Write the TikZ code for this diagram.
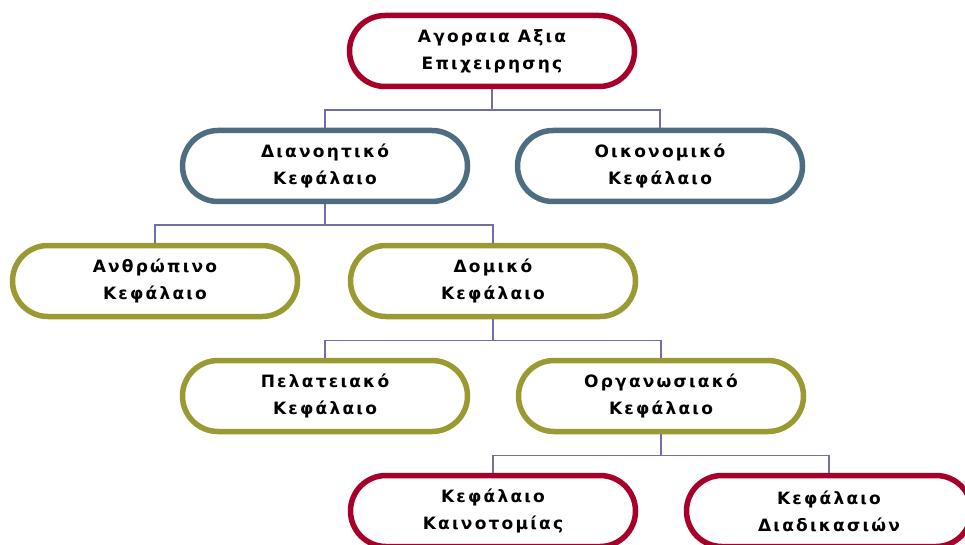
\documentclass[tikz,border=0pt]{standalone}
\usepackage{fontspec}
\setmainfont{DejaVu Sans}[BoldFont={DejaVu Sans Bold}]
\newfontfamily\boxfont{DejaVu Sans Bold}[LetterSpace=13]
\definecolor{capred}{HTML}{A6002A}
\definecolor{capblue}{HTML}{4D6D80}
\definecolor{capolive}{HTML}{9A9A33}
\definecolor{linkcol}{HTML}{6F6FA6}
\tikzset{
  capbox/.style={draw, line width=5.5pt, fill=white, rounded corners=35.5pt,
    minimum width=285pt, minimum height=71pt, inner sep=0pt, align=center,
    font=\boxfont\fontsize{17}{27}\selectfont, text=black},
  redbox/.style={capbox, draw=capred},
  bluebox/.style={capbox, draw=capblue},
  olivebox/.style={capbox, draw=capolive},
  link/.style={draw=linkcol, line width=1.5pt}
}
\begin{document}
\begin{tikzpicture}[x=1pt, y=-1pt]
\useasboundingbox (0,0) rectangle (965,545);
% hierarchy of capital components
\node[redbox]   (value)  at (492,51)  {Αγοραια Αξια\\Επιχειρησης};
\node[bluebox]  (intel)  at (325,166) {Διανοητικό\\Κεφάλαιο};
\node[bluebox]  (fin)    at (660,166) {Οικονομικό\\Κεφάλαιο};
\node[olivebox] (human)  at (155,281) {Ανθρώπινο\\Κεφάλαιο};
\node[olivebox] (struct) at (493,281) {Δομικό\\Κεφάλαιο};
\node[olivebox] (cust)   at (325,396) {Πελατειακό\\Κεφάλαιο};
\node[olivebox] (org)    at (661,396) {Οργανωσιακό\\Κεφάλαιο};
\node[redbox]   (innov)  at (493,511) {Κεφάλαιο\\Καινοτομίας};
\node[redbox]   (proc)   at (829,511) {Κεφάλαιο\\Διαδικασιών};
% elbow connectors from each parent to its children
\foreach \p/\c in {value/intel, value/fin, intel/human, intel/struct,
                   struct/cust, struct/org, org/innov, org/proc}{
  \draw[link] (\p.south) -- ++(0,21) -| (\c.north);
}
\end{tikzpicture}
\end{document}
